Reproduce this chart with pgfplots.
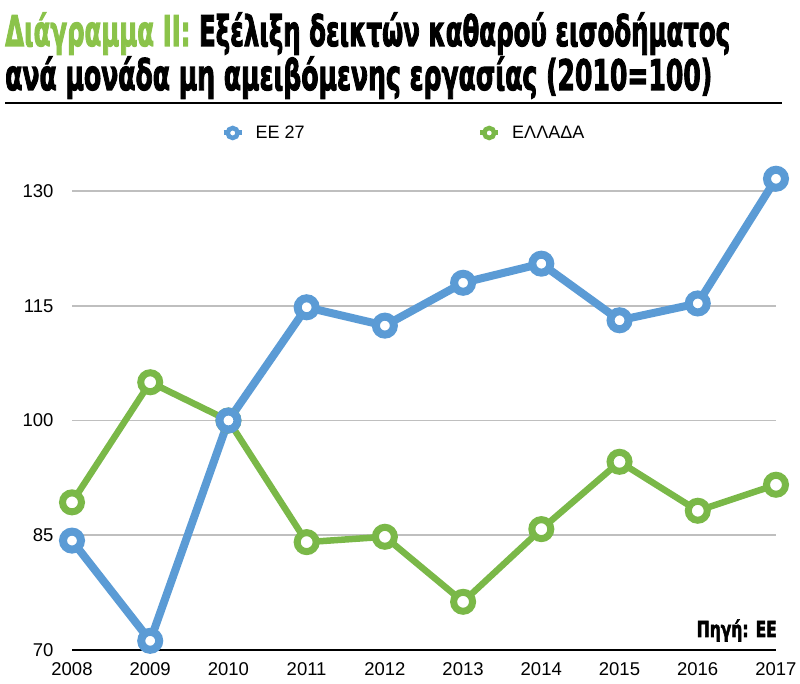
\documentclass[border=0pt]{standalone}
\usepackage{pgfplots}
\pgfplotsset{compat=1.18}
\usepackage{fontspec}
\setmainfont{Liberation Sans}
\newfontfamily\titlefont[FakeBold=3]{DejaVu Sans}
\definecolor{eublue}{RGB}{91,155,213}
\definecolor{grgreen}{RGB}{122,184,72}
\definecolor{titlegreen}{RGB}{139,195,74}
\definecolor{gridgray}{RGB}{191,191,191}
\begin{document}
\begin{tikzpicture}
\path[use as bounding box] (0,0) rectangle (800pt,684pt);
\node[anchor=base west, inner sep=0pt] at (5pt,638pt)
  {\resizebox{725pt}{\height}{\titlefont\bfseries\fontsize{42}{42}\selectfont\textcolor{titlegreen}{Διάγραμμα II:} Εξέλιξη δεικτών καθαρού εισοδήματος}};
\node[anchor=base west, inner sep=0pt] at (5pt,594pt)
  {\resizebox{707pt}{\height}{\titlefont\bfseries\fontsize{42}{42}\selectfont ανά μονάδα μη αμειβόμενης εργασίας (2010=100)}};
\draw[line width=2.5pt] (5pt,581pt) -- (782pt,581pt);
\begin{axis}[
  at={(72pt,34pt)}, anchor=south west,
  scale only axis, width=704pt, height=459pt,
  xmin=2008, xmax=2017, ymin=70, ymax=130,
  clip=false,
  axis lines=left,
  axis line style={-},
  x axis line style={black, line width=2pt},
  y axis line style={draw=none},
  xtick={2008,...,2017},
  ytick={70,85,100,115,130},
  major tick length=0pt,
  ymajorgrids,
  major grid style={gridgray, line width=1.6pt},
  tick label style={font=\fontsize{18.5}{20}\selectfont},
  /pgf/number format/assume math mode=true,
  /pgf/number format/1000 sep={},
  yticklabel style={xshift=-15pt},
  xticklabel style={yshift=-9pt},
  legend columns=2,
  legend style={at={(0,1)}, anchor=west, xshift=149pt, yshift=58pt,
    draw=none, fill=none, inner sep=0pt,
    font=\fontsize{18}{20}\selectfont,
    /tikz/every even column/.append style={column sep=171pt}},
  legend image code/.code={
    \path[draw=none, fill=none] (-9pt,-1pt) rectangle (21pt,1pt);
    \draw[#1, line width=5pt] (-9pt,0pt) -- (9pt,0pt);
    \draw[#1, fill=white, line width=4.5pt] (0pt,0pt) circle (5pt);
  },
]
\addlegendimage{eublue}
\addlegendentry{ΕΕ 27}
\addlegendimage{grgreen}
\addlegendentry{ΕΛΛΑΔΑ}
\addplot[forget plot, grgreen, line width=6.5pt, mark=*, mark size=9.5pt,
  mark options={fill=white, line width=7pt}]
  coordinates {(2008,89.3) (2009,105.0) (2010,100) (2011,84.1) (2012,84.8)
               (2013,76.3) (2014,85.8) (2015,94.6) (2016,88.2) (2017,91.6)};
\addplot[forget plot, eublue, line width=8pt, mark=*, mark size=9pt,
  mark options={fill=white, line width=8pt}]
  coordinates {(2008,84.3) (2009,71.2) (2010,100) (2011,114.8) (2012,112.4)
               (2013,118.0) (2014,120.5) (2015,113.1) (2016,115.3) (2017,131.6)};
\end{axis}
\node[anchor=base east, inner sep=0pt] at (777pt,47pt)
  {\resizebox{80pt}{\height}{\titlefont\bfseries\fontsize{22}{22}\selectfont Πηγή: ΕΕ}};
\end{tikzpicture}
\end{document}
